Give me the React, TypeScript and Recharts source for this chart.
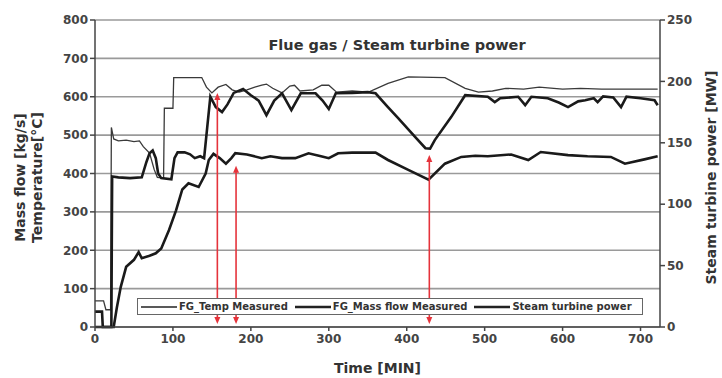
import React from 'react';
import { LineChart, Line, XAxis, YAxis, CartesianGrid, ReferenceLine, Legend } from 'recharts';

// FG_Temp Measured [°C]
const tempTime = [0, 11, 14, 20, 21, 24, 30, 40, 50, 57, 62, 70, 76, 80, 88, 89, 100, 101, 137, 143, 150, 158, 168, 176, 185, 195, 205, 214, 220, 228, 240, 250, 256, 263, 280, 291, 300, 310, 330, 351, 376, 402, 449, 475, 492, 510, 527, 550, 570, 600, 623, 650, 690, 722];
const tempValue = [68, 68, 45, 45, 520, 490, 485, 487, 483, 485, 470, 453, 410, 390, 388, 570, 570, 650, 650, 625, 610, 625, 632, 618, 612, 618, 625, 630, 633, 622, 610, 628, 630, 615, 618, 630, 630, 612, 615, 612, 635, 652, 650, 622, 612, 615, 622, 620, 625, 620, 622, 620, 620, 620];

// FG_Mass flow Measured [kg/s]
const massTime = [0, 21, 22, 30, 45, 60, 66, 70, 74, 78, 81, 85, 98, 102, 106, 115, 122, 128, 135, 140, 144, 148, 155, 163, 170, 178, 190, 200, 210, 220, 230, 240, 252, 264, 283, 292, 300, 309, 330, 350, 360, 375, 389, 411, 424, 430, 436, 457, 475, 504, 513, 520, 543, 552, 560, 581, 595, 607, 620, 629, 640, 645, 652, 665, 675, 682, 700, 718, 722];
const massValue = [0, 0, 392, 390, 388, 390, 430, 453, 460, 440, 400, 388, 385, 440, 455, 455, 450, 440, 445, 440, 520, 600, 573, 560, 580, 610, 620, 604, 590, 552, 590, 609, 565, 609, 609, 590, 568, 609, 610, 612, 609, 575, 544, 495, 466, 465, 487, 547, 604, 600, 586, 596, 600, 578, 600, 596, 585, 573, 588, 591, 596, 586, 601, 598, 573, 600, 596, 591, 578];

// Steam turbine power [MW]
const powerTime = [0, 9, 10, 24, 28, 33, 40, 50, 56, 60, 70, 78, 85, 95, 104, 112, 120, 133, 142, 146, 152, 160, 168, 175, 180, 195, 214, 225, 240, 257, 274, 290, 300, 312, 330, 360, 376, 402, 428, 449, 470, 488, 504, 534, 556, 572, 607, 632, 662, 680, 705, 722];
const powerValue = [12.5, 12.5, 0, 0, 15.6, 32.5, 49, 54.7, 61, 56, 58, 60, 64, 79, 95, 112, 117, 114, 125, 136, 141, 137.5, 133, 137.5, 141.5, 140.5, 137.5, 139, 137.5, 137.5, 141.5, 139, 137.5, 141.5, 142, 142, 136, 128, 120, 133, 138.5, 139.5, 139, 140.5, 136, 142.5, 140, 139, 138.5, 133, 136.5, 139];

// Red arrows (time, top value on left axis, bottom value)
const arrowTime = [157, 181, 429];
const arrowTop = [610, 420, 448];
const arrowBottom = [8, 8, 8];

const xTicks = [0, 100, 200, 300, 400, 500, 600, 700];
const leftTicks = [0, 100, 200, 300, 400, 500, 600, 700, 800];
const rightTicks = [0, 50, 100, 150, 200, 250];

const seriesNames = ['FG_Temp Measured', 'FG_Mass flow Measured', 'Steam turbine power'];
const seriesWidths = [1.3, 2.6, 2.6];

const tempData = tempTime.map((t, i) => ({ t, v: tempValue[i] }));
const massData = massTime.map((t, i) => ({ t, v: massValue[i] }));
const powerData = powerTime.map((t, i) => ({ t, v: powerValue[i] }));

const FONT = '"DejaVu Sans", "Liberation Sans", Arial, sans-serif';
const RED = '#e5333b';

const ArrowShape = (p: any) => {
  const { x1, y1, x2, y2 } = p;
  const x = x1;
  const top = Math.min(y1, y2);
  const bot = Math.max(y1, y2);
  return (
    <g>
      <line x1={x} y1={top + 4} x2={x2} y2={bot - 4} stroke={RED} strokeWidth={1.6} />
      <polygon points={`${x},${top} ${x - 3},${top + 7} ${x + 3},${top + 7}`} fill={RED} />
      <polygon points={`${x},${bot} ${x - 3},${bot - 7} ${x + 3},${bot - 7}`} fill={RED} />
    </g>
  );
};

const LeftLabel = (props: any) => {
  const vb = props.viewBox || { x: 0, y: 20, width: 95, height: 307 };
  const cy = vb.y + vb.height / 2 + 4;
  return (
    <g fontFamily={FONT} fontWeight="bold" fontSize={14} fill="#333">
      <text x={vb.x + 25} y={cy} transform={`rotate(-90 ${vb.x + 25} ${cy})`} textAnchor="middle">Mass flow [kg/s]</text>
      <text x={vb.x + 42} y={cy} transform={`rotate(-90 ${vb.x + 42} ${cy})`} textAnchor="middle">Temperature[°C]</text>
    </g>
  );
};

const RightLabel = (props: any) => {
  const vb = props.viewBox || { x: 660, y: 20, width: 62, height: 307 };
  const cx = vb.x + 56;
  const cy = vb.y + vb.height / 2 + 4;
  return (
    <text x={cx} y={cy} transform={`rotate(-90 ${cx} ${cy})`} textAnchor="middle" fontFamily={FONT} fontWeight="bold" fontSize={14} fill="#333">
      Steam turbine power [MW]
    </text>
  );
};

const TitleLabel = (props: any) => {
  const vb = props.viewBox || { x: 95, y: 20, width: 565, height: 307 };
  return (
    <text x={vb.x + 302} y={vb.y + 30} textAnchor="middle" fontFamily={FONT} fontWeight="bold" fontSize={14.5} fill="#333">
      Flue gas / Steam turbine power
    </text>
  );
};

const LegendBox = () => (
  <div
    style={{
      boxSizing: 'border-box',
      width: 506,
      height: 17,
      border: '1px solid #666',
      background: '#fff',
      display: 'flex',
      alignItems: 'center',
      paddingLeft: 3,
      fontFamily: FONT,
      fontSize: 10,
      fontWeight: 'bold',
      color: '#333',
      whiteSpace: 'nowrap',
    }}
  >
    {seriesNames.map((name, i) => (
      <div key={name} style={{ display: 'flex', alignItems: 'center', marginRight: i < 2 ? 7 : 0 }}>
        <svg width={36} height={6} style={{ marginRight: 2 }}>
          <line x1={0} y1={3} x2={36} y2={3} stroke="#222" strokeWidth={seriesWidths[i]} />
        </svg>
        <span>{name}</span>
      </div>
    ))}
  </div>
);

export default function App() {
  return (
    <div style={{ width: 722, height: 378, position: 'relative', background: '#fff' }}>
      <style>{'body{margin:0;background:#fff}'}</style>
      <LineChart width={722} height={378} margin={{ top: 20, right: 0, bottom: 0, left: 0 }}>
        <CartesianGrid yAxisId="left" vertical={false} horizontal stroke="#9a9a9a" strokeWidth={1.6} />
        <XAxis
          dataKey="t"
          type="number"
          domain={[0, 725]}
          ticks={xTicks}
          allowDuplicatedCategory={false}
          height={51}
          tickSize={4}
          tickMargin={3}
          stroke="#444"
          strokeWidth={1.5}
          tick={{ fontFamily: FONT, fontSize: 12, fontWeight: 'bold', fill: '#444' }}
          label={{ value: 'Time [MIN]', position: 'insideBottom', offset: 5, style: { fontFamily: FONT, fontSize: 14, fontWeight: 'bold', fill: '#333' } }}
        />
        <YAxis
          yAxisId="left"
          orientation="left"
          width={95}
          domain={[0, 800]}
          ticks={leftTicks}
          tickSize={5}
          tickMargin={2}
          stroke="#444"
          strokeWidth={1.5}
          tick={{ fontFamily: FONT, fontSize: 12, fontWeight: 'bold', fill: '#444' }}
          label={<LeftLabel />}
        />
        <YAxis
          yAxisId="right"
          orientation="right"
          width={62}
          domain={[0, 250]}
          ticks={rightTicks}
          tickSize={5}
          tickMargin={2}
          stroke="#444"
          strokeWidth={1.5}
          tick={{ fontFamily: FONT, fontSize: 12, fontWeight: 'bold', fill: '#444' }}
          label={<RightLabel />}
        />
        <Line yAxisId="left" data={tempData} dataKey="v" name={seriesNames[0]} type="linear" stroke="#3a3a3a" strokeWidth={seriesWidths[0]} dot={false} isAnimationActive={false} />
        <Line yAxisId="left" data={massData} dataKey="v" name={seriesNames[1]} type="linear" stroke="#1a1a1a" strokeWidth={seriesWidths[1]} dot={false} isAnimationActive={false} />
        <Line yAxisId="right" data={powerData} dataKey="v" name={seriesNames[2]} type="linear" stroke="#1a1a1a" strokeWidth={seriesWidths[2]} dot={false} isAnimationActive={false} />
        {arrowTime.map((t, i) => (
          <ReferenceLine
            key={t}
            yAxisId="left"
            segment={[{ x: t, y: arrowBottom[i] }, { x: t, y: arrowTop[i] }]}
            shape={ArrowShape}
          />
        ))}
        <ReferenceLine yAxisId="left" y={800} stroke="none" label={<TitleLabel />} />
        <Legend
          layout="horizontal"
          verticalAlign="middle"
          align="center"
          wrapperStyle={{ left: 137, top: 298, width: 506, height: 17 }}
          content={() => <LegendBox />}
        />
      </LineChart>
    </div>
  );
}
